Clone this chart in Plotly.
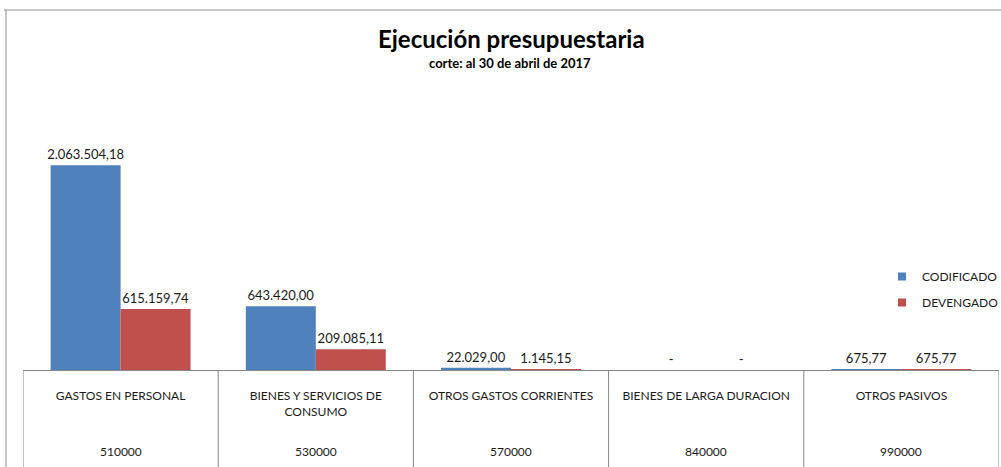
import plotly.graph_objects as go

# ---- data ----
categories = ["GASTOS EN PERSONAL", "BIENES Y SERVICIOS DE<br>CONSUMO",
              "OTROS GASTOS CORRIENTES", "BIENES DE LARGA DURACION", "OTROS PASIVOS"]
codes = ["510000", "530000", "570000", "840000", "990000"]
codificado = [2063504.18, 643420.00, 22029.00, 0, 675.77]
devengado = [615159.74, 209085.11, 1145.15, 0, 675.77]
series_names = ["CODIFICADO", "DEVENGADO"]

TITLE = "Ejecución presupuestaria"
SUBTITLE = "corte: al 30 de abril de 2017"

# ---- layout constants ----
W, H = 1001, 467
ML, MR, MT, MB = 23, 2, 122, 97
PW, PH = W - ML - MR, H - MT - MB
FONT = "Lato"
TXT = "#1a1a1a"
GRID = "#868686"
BLUE = "#4F81BD"
RED = "#C0504D"


def px_x(x):
    return (x - ML) / PW


def px_y(y):
    return (H - MB - y) / PH


def fmt(v):
    if v == 0:
        return "-"
    s = f"{v:,.2f}"
    return s.replace(",", "X").replace(".", ",").replace("X", ".")


fig = go.Figure()
for name, vals, col, lg in [(series_names[0], codificado, BLUE, "legend"),
                            (series_names[1], devengado, RED, "legend2")]:
    fig.add_trace(go.Bar(
        x=categories, y=vals, name=name, marker_color=col,
        marker_line_width=0,
        text=[fmt(v) for v in vals], textposition="outside",
        constraintext="none",
        textfont=dict(family=FONT, size=13, color=TXT),
        cliponaxis=False, showlegend=False,
    ))
    # legend-only entry with a small square swatch
    fig.add_trace(go.Scatter(
        x=[None], y=[None], mode="markers", name=name,
        marker=dict(symbol="square", size=8, color=col),
        legend=lg, showlegend=True,
    ))

shapes = []
for i in range(len(categories) + 1):
    shapes.append(dict(type="line", xref="x", yref="paper",
                       x0=i - 0.5, x1=i - 0.5, y0=0, y1=-0.5,
                       line=dict(color=GRID, width=1)))
# outer frame
shapes.append(dict(type="line", xref="paper", yref="paper",
                   x0=px_x(4), x1=px_x(1001), y0=px_y(10), y1=px_y(10),
                   line=dict(color="#8f8f8f", width=1)))
shapes.append(dict(type="line", xref="paper", yref="paper",
                   x0=px_x(6), x1=px_x(6), y0=px_y(10), y1=px_y(470),
                   line=dict(color="#8f8f8f", width=1)))

annotations = [
    dict(text=f"<b>{TITLE}</b>", xref="paper", yref="paper",
         x=px_x(511), y=px_y(39), showarrow=False, yanchor="middle",
         font=dict(family=FONT, size=24, color="#000")),
    dict(text=f"<b>{SUBTITLE}</b>", xref="paper", yref="paper",
         x=px_x(510), y=px_y(63), showarrow=False, yanchor="middle",
         font=dict(family=FONT, size=13, color="#000")),
]
for c, code in zip(categories, codes):
    annotations.append(dict(text=code, x=c, xref="x", yref="paper",
                            y=px_y(451), showarrow=False, yanchor="middle",
                            font=dict(family=FONT, size=12, color=TXT)))

LEG_FONT = dict(family=FONT, size=12, color=TXT)
fig.update_layout(
    width=W, height=H,
    margin=dict(l=ML, r=MR, t=MT, b=MB, autoexpand=False),
    paper_bgcolor="white", plot_bgcolor="white",
    barmode="group", bargap=0.283, bargroupgap=0,
    separators=",.",
    showlegend=True,
    legend=dict(x=px_x(882), y=px_y(262), xanchor="left", yanchor="top",
                font=LEG_FONT, bgcolor="rgba(0,0,0,0)", itemwidth=30),
    legend2=dict(x=px_x(882), y=px_y(288), xanchor="left", yanchor="top",
                 font=LEG_FONT, bgcolor="rgba(0,0,0,0)", itemwidth=30),
    xaxis=dict(range=[-0.5, len(categories) - 0.5], showline=True, linecolor=GRID,
               linewidth=1, ticks="", showgrid=False, zeroline=False,
               tickfont=dict(family=FONT, size=12, color=TXT),
               ticklabelstandoff=15),
    yaxis=dict(range=[0, 2500000], visible=False, showgrid=False, zeroline=False),
    shapes=shapes, annotations=annotations,
    font=dict(family=FONT),
)

fig.write_html("out.html")
